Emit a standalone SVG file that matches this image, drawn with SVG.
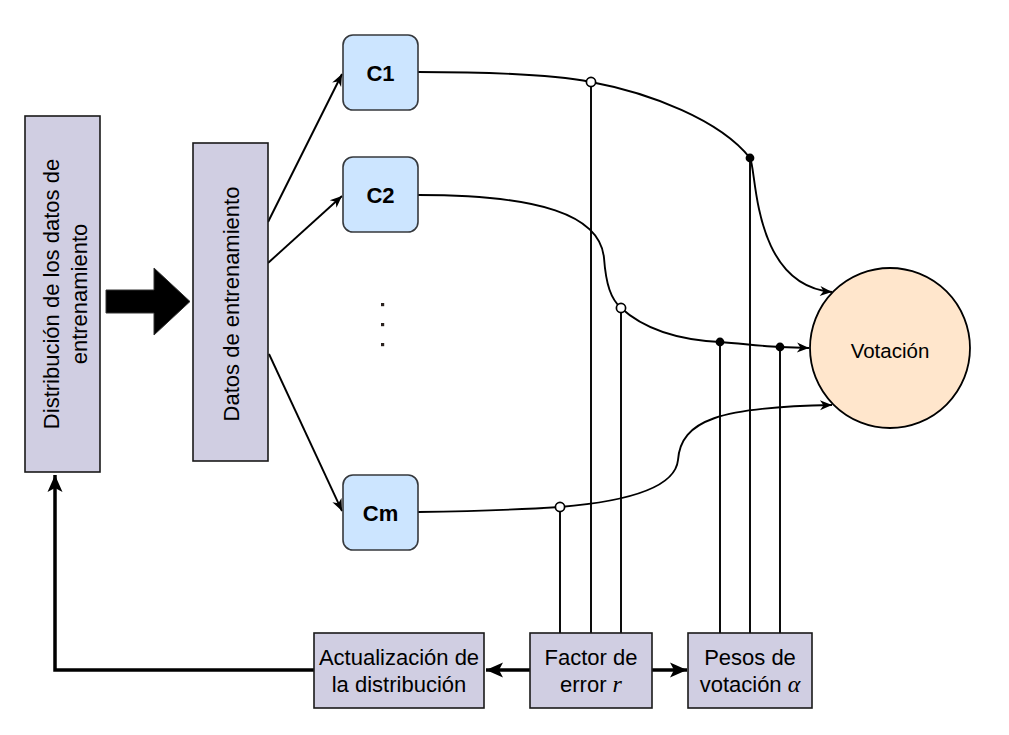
<svg xmlns="http://www.w3.org/2000/svg" width="1009" height="735" viewBox="0 0 1009 735">
<defs>
<style>
.box{fill:#d0cee2;stroke:#1a1a1a;stroke-width:1.6}
.clf{fill:#cce5ff;stroke:#36393d;stroke-width:1.6}
.vot{fill:#ffe6cc;stroke:#000;stroke-width:1.8}
.t{font-family:"Liberation Sans",Arial,sans-serif;font-size:22px;fill:#000;text-anchor:middle}
.tb{font-family:"Liberation Sans",Arial,sans-serif;font-size:22px;font-weight:bold;fill:#000;text-anchor:middle}
.m{font-family:"Liberation Serif","Times New Roman",serif;font-style:italic;font-size:24px}
.c{fill:none;stroke:#000;stroke-width:1.9}
.ck{fill:none;stroke:#000;stroke-width:3.5}
.oc{fill:#fff;stroke:#000;stroke-width:1.7}
.fd{fill:#000}
</style>
<marker id="a" markerUnits="userSpaceOnUse" markerWidth="14" markerHeight="12" refX="13" refY="6" orient="auto">
<path d="M1,1 L13,6 L1,11 L4.5,6 z" fill="#000"/>
</marker>
<marker id="ak" markerUnits="userSpaceOnUse" markerWidth="19" markerHeight="17" refX="18" refY="8.5" orient="auto">
<path d="M1,1 L18,8.5 L1,16 L5,8.5 z" fill="#000"/>
</marker>
</defs>
<rect width="1009" height="735" fill="#fff"/>

<g id="connectors">
<path class="c" d="M268,222 L342,74" marker-end="url(#a)"/>
<path class="c" d="M268,263 L342,196" marker-end="url(#a)"/>
<path class="c" d="M269,354 L342,511" marker-end="url(#a)"/>
<path class="c" d="M418,72 C500,72 560,76 591,82 C650,93 720,120 750,158 C757,170 752,285 832,292" marker-end="url(#a)"/>
<path class="c" d="M418,195 C540,195 600,215 604,258 C606,285 611,299 621,308 C645,330 680,340 720,342 C745,344 760,346 780,347 L809,348" marker-end="url(#a)"/>
<path class="c" d="M418,512 C480,511 530,509 560,507 C620,502 675,490 678,460 C681,420 720,407 832,405" marker-end="url(#a)"/>
<line class="c" x1="560" y1="511" x2="560" y2="633"/>
<line class="c" x1="591" y1="86" x2="591" y2="633"/>
<line class="c" x1="621" y1="312" x2="621" y2="633"/>
<line class="c" x1="720" y1="342" x2="720" y2="633"/>
<line class="c" x1="750" y1="158" x2="750" y2="633"/>
<line class="c" x1="780" y1="347" x2="780" y2="633"/>
<circle class="oc" cx="591" cy="82" r="4.6"/>
<circle class="oc" cx="621" cy="308" r="4.6"/>
<circle class="oc" cx="560" cy="507" r="4.6"/>
<circle class="fd" cx="750" cy="158" r="4.4"/>
<circle class="fd" cx="720" cy="342" r="4.4"/>
<circle class="fd" cx="780" cy="347" r="4.4"/>
<path class="ck" d="M530,670 L486,670" marker-end="url(#ak)"/>
<path class="ck" d="M652,670 L687,670" marker-end="url(#ak)"/>
<path class="ck" d="M314,670 L55,670 L55,475" marker-end="url(#ak)"/>
</g>

<g id="distribucion">
<rect class="box" x="25" y="116" width="75" height="356"/>
<text class="t" transform="translate(0,294) rotate(-90)"><tspan x="0" y="59">Distribución de los datos de</tspan><tspan x="0" y="86.5">entrenamiento</tspan></text>
</g>

<g id="bigarrow">
<polygon points="106,290 154,290 154,268 190,301.5 154,335 154,313 106,313" fill="#000" stroke="#333" stroke-width="1"/>
</g>

<g id="datos">
<rect class="box" x="193" y="143" width="75" height="318"/>
<text class="t" transform="translate(0,304) rotate(-90)" x="0" y="238.5">Datos de entrenamiento</text>
</g>

<g id="c1">
<rect class="clf" x="343" y="35" width="75" height="75" rx="10"/>
<text class="tb" x="380.5" y="81">C1</text>
</g>
<g id="c2">
<rect class="clf" x="343" y="157" width="75" height="75" rx="10"/>
<text class="tb" x="380.5" y="203">C2</text>
</g>
<g id="dots">
<rect x="381" y="303" width="3.2" height="3.2" fill="#2b2320"/>
<rect x="381" y="323" width="3.2" height="3.2" fill="#2b2320"/>
<rect x="381" y="343" width="3.2" height="3.2" fill="#2b2320"/>
</g>
<g id="cm">
<rect class="clf" x="343" y="475" width="75" height="75" rx="10"/>
<text class="tb" x="380.5" y="521">Cm</text>
</g>

<g id="votacion">
<circle class="vot" cx="890" cy="348" r="80"/>
<text class="t" style="font-size:20.5px" x="890" y="358">Votación</text>
</g>

<g id="actualizacion">
<rect class="box" x="314" y="633" width="170" height="75"/>
<text class="t"><tspan x="399" y="665">Actualización de</tspan><tspan x="399" y="692">la distribución</tspan></text>
</g>

<g id="factor">
<rect class="box" x="530" y="633" width="122" height="75"/>
<text class="t"><tspan x="591" y="665">Factor de</tspan><tspan x="591" y="692">error <tspan class="m">r</tspan></tspan></text>
</g>

<g id="pesos">
<rect class="box" x="688" y="633" width="124" height="75"/>
<text class="t"><tspan x="750" y="665">Pesos de</tspan><tspan x="750" y="692">votación <tspan class="m">α</tspan></tspan></text>
</g>
</svg>
